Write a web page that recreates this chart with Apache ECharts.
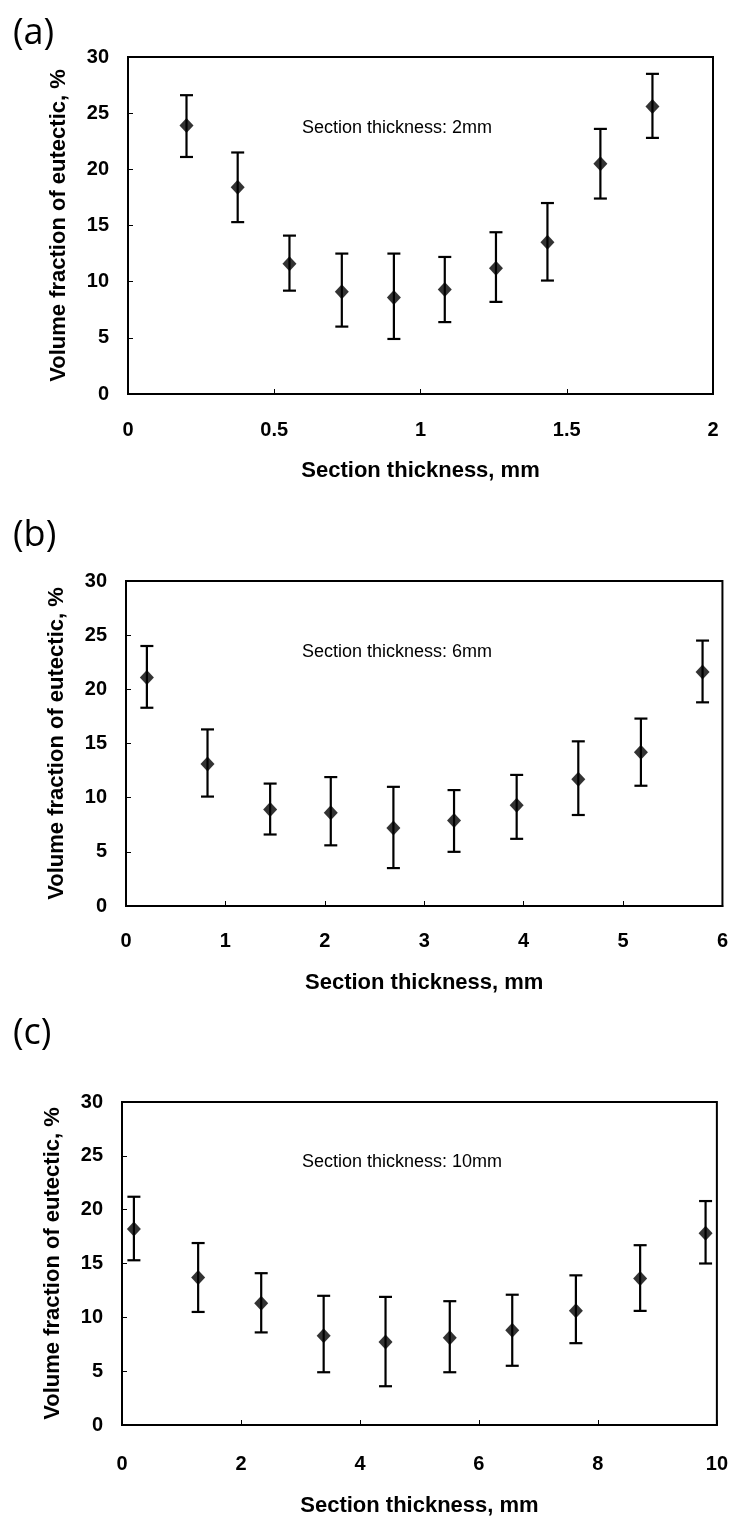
<!DOCTYPE html>
<html>
<head>
<meta charset="utf-8">
<script src="https://cdn.jsdelivr.net/npm/echarts@6/dist/echarts.min.js"></script>
<style>
  html, body { margin: 0; padding: 0; background: #fff; }
  #main { width: 731px; height: 1520px; }
</style>
</head>
<body>
<div id="main"></div>
<script>
// panel (a), 2mm section
var xA = [0.2, 0.375, 0.552, 0.731, 0.909, 1.083, 1.258, 1.434, 1.615, 1.793];
var yA = [23.9, 18.4, 11.6, 9.1, 8.6, 9.3, 11.2, 13.5, 20.5, 25.6];
var loA = [21.1, 15.3, 9.2, 6.0, 4.9, 6.4, 8.2, 10.1, 17.4, 22.8];
var hiA = [26.6, 21.5, 14.1, 12.5, 12.5, 12.2, 14.4, 17.0, 23.6, 28.5];

// panel (b), 6mm section
var xB = [0.21, 0.82, 1.45, 2.06, 2.69, 3.30, 3.93, 4.55, 5.18, 5.80];
var yB = [21.1, 13.1, 8.9, 8.6, 7.2, 7.9, 9.3, 11.7, 14.2, 21.6];
var loB = [18.3, 10.1, 6.6, 5.6, 3.5, 5.0, 6.2, 8.4, 11.1, 18.8];
var hiB = [24.0, 16.3, 11.3, 11.9, 11.0, 10.7, 12.1, 15.2, 17.3, 24.5];

// panel (c), 10mm section
var xC = [0.20, 1.28, 2.34, 3.39, 4.43, 5.51, 6.56, 7.63, 8.71, 9.81];
var yC = [18.2, 13.7, 11.3, 8.3, 7.7, 8.1, 8.8, 10.6, 13.6, 17.8];
var loC = [15.3, 10.5, 8.6, 4.9, 3.6, 4.9, 5.5, 7.6, 10.6, 15.0];
var hiC = [21.2, 16.9, 14.1, 12.0, 11.9, 11.5, 12.1, 13.9, 16.7, 20.8];

var xMax = [2, 6, 10];
var xStep = [0.5, 1, 2];
var panelLabels = ['(a)', '(b)', '(c)'];
var notes = ['Section thickness: 2mm', 'Section thickness: 6mm', 'Section thickness: 10mm'];
var xTitle = 'Section thickness, mm';
var yTitle = 'Volume fraction of eutectic, %';

var font = 'Liberation Sans, Arial, sans-serif';
var grids = [
    { left: 128, top: 57, width: 585, height: 337 },
    { left: 126, top: 581, width: 597, height: 325 },
    { left: 122, top: 1102, width: 595, height: 323 }
];
var labelTops = [11, 513, 1011];
var noteTops = [119, 643, 1153];
var xNameGap = [66, 66, 70];
var xLabelMargin = [26, 25, 29];

var myChart = echarts.init(document.getElementById('main'));

function pairs(xs, ys) {
    return xs.map(function (x, i) { return [x, ys[i]]; });
}

function errData(xs, lo, hi) {
    return xs.map(function (x, i) { return [x, lo[i], hi[i]]; });
}

function renderErr(params, api) {
    var top = api.coord([api.value(0), api.value(2)]);
    var bot = api.coord([api.value(0), api.value(1)]);
    var w = 6.5;
    var style = { stroke: '#000', lineWidth: 2.2 };
    return {
        type: 'group',
        children: [
            { type: 'line', shape: { x1: top[0], y1: top[1], x2: bot[0], y2: bot[1] }, style: style },
            { type: 'line', shape: { x1: top[0] - w, y1: top[1], x2: top[0] + w, y2: top[1] }, style: style },
            { type: 'line', shape: { x1: bot[0] - w, y1: bot[1], x2: bot[0] + w, y2: bot[1] }, style: style }
        ]
    };
}

var panels = [[xA, yA, loA, hiA], [xB, yB, loB, hiB], [xC, yC, loC, hiC]];

var option = {
    backgroundColor: '#fff',
    animation: false,
    title: panelLabels.map(function (t, i) {
        return {
            text: t, left: 8, top: labelTops[i],
            textStyle: { fontFamily: 'Open Sans', fontSize: 36, fontWeight: 'normal', color: '#000' }
        };
    }),
    grid: grids.map(function (g) {
        return {
            left: g.left, top: g.top, width: g.width, height: g.height,
            show: true, borderColor: '#000', borderWidth: 2, backgroundColor: 'transparent'
        };
    }),
    xAxis: grids.map(function (g, i) {
        return {
            type: 'value', gridIndex: i, min: 0, max: xMax[i], interval: xStep[i],
            name: xTitle, nameLocation: 'middle', nameGap: xNameGap[i],
            nameTextStyle: { fontFamily: font, fontSize: 22, fontWeight: 'bold', color: '#000' },
            axisLine: { show: true, lineStyle: { color: '#000', width: 2 } },
            axisTick: { show: true, inside: true, length: 5, lineStyle: { color: '#000', width: 1 } },
            axisLabel: { margin: xLabelMargin[i], fontFamily: font, fontSize: 20, fontWeight: 'bold', color: '#000' },
            splitLine: { show: false }
        };
    }),
    yAxis: grids.map(function (g, i) {
        return {
            type: 'value', gridIndex: i, min: 0, max: 30, interval: 5,
            name: yTitle, nameLocation: 'middle', nameGap: 58, nameRotate: 90,
            nameTextStyle: { fontFamily: font, fontSize: 22, fontWeight: 'bold', color: '#000' },
            axisLine: { show: true, lineStyle: { color: '#000', width: 2 } },
            axisTick: { show: true, inside: true, length: 5, lineStyle: { color: '#000', width: 1 } },
            axisLabel: { margin: 19, fontFamily: font, fontSize: 20, fontWeight: 'bold', color: '#000' },
            splitLine: { show: false }
        };
    }),
    graphic: notes.map(function (t, i) {
        return {
            type: 'text', left: 302, top: noteTops[i],
            style: { text: t, font: '18px ' + font, fill: '#000' }
        };
    }),
    series: []
};

panels.forEach(function (p, i) {
    option.series.push({
        type: 'custom', xAxisIndex: i, yAxisIndex: i,
        renderItem: renderErr,
        encode: { x: 0, y: [1, 2] },
        data: errData(p[0], p[2], p[3]),
        z: 2
    });
    option.series.push({
        type: 'scatter', xAxisIndex: i, yAxisIndex: i,
        symbol: 'diamond', symbolSize: [14, 15],
        itemStyle: { color: '#000' },
        data: pairs(p[0], p[1]),
        z: 3
    });
});

myChart.setOption(option);
</script>
</body>
</html>
